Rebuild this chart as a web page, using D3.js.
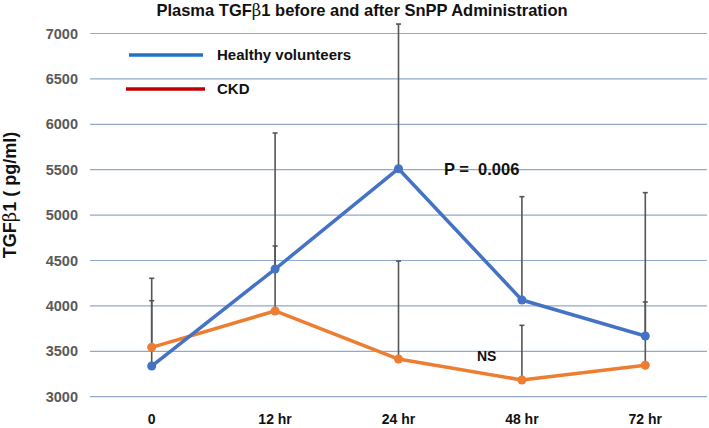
<!DOCTYPE html>
<html><head><meta charset="utf-8">
<script src="https://cdn.jsdelivr.net/npm/d3@7"></script>
<style>body{margin:0;background:#fff;} svg{display:block;font-family:"Liberation Sans",Arial,sans-serif;}</style>
</head><body><svg id="c" width="709" height="428"></svg>
<script>
const categories = ["0", "12 hr", "24 hr", "48 hr", "72 hr"];
const healthy = [3338, 4406, 5511, 4065, 3668];
const healthyUpper = [4304, 5904, 7104, 5203, 5247];
const ckd = [3544, 3944, 3415, 3184, 3346];
const ckdUpper = [4057, 4660, 4494, 3786, 4043];
const yTicks = [3000, 3500, 4000, 4500, 5000, 5500, 6000, 6500, 7000];

const svg = d3.select("#c");
const x = d3.scalePoint().domain(categories).range([90, 707]).padding(0.5);
const y = d3.scaleLinear().domain([3000, 7000]).range([396.7, 33.5]);

// gridlines
svg.append("g").selectAll("line").data(yTicks).join("line")
  .attr("x1", 90).attr("x2", 707)
  .attr("y1", d => y(d)).attr("y2", d => y(d))
  .attr("stroke", "#8FAACC").attr("stroke-width", 1.2);

// y labels
svg.append("g").selectAll("text").data(yTicks).join("text")
  .attr("x", 78).attr("y", d => y(d)).attr("dy", "0.35em")
  .attr("text-anchor", "end").attr("font-size", 14.5).attr("font-weight", "bold")
  .attr("fill", "#595959").text(d => d);

// x labels
svg.append("g").selectAll("text").data(categories).join("text")
  .attr("x", d => x(d)).attr("y", 424).attr("text-anchor", "middle")
  .attr("font-size", 14).attr("font-weight", "bold").attr("fill", "#111").text(d => d);

// error bars
function errBars(vals, ups) {
  const g = svg.append("g").attr("stroke", "#555").attr("stroke-width", 1.6);
  categories.forEach((c, i) => {
    g.append("line").attr("x1", x(c)).attr("x2", x(c)).attr("y1", y(vals[i])).attr("y2", y(ups[i]));
    g.append("line").attr("x1", x(c) - 2.5).attr("x2", x(c) + 2.5).attr("y1", y(ups[i])).attr("y2", y(ups[i]));
  });
}
errBars(healthy, healthyUpper);
errBars(ckd, ckdUpper);

function series(vals, color) {
  const line = d3.line().x((d, i) => x(categories[i])).y(d => y(d));
  svg.append("path").datum(vals).attr("d", line).attr("fill", "none")
    .attr("stroke", color).attr("stroke-width", 3.5).attr("stroke-linejoin", "round");
  svg.append("g").selectAll("circle").data(vals).join("circle")
    .attr("cx", (d, i) => x(categories[i])).attr("cy", d => y(d)).attr("r", 4.5).attr("fill", color);
}
series(ckd, "#ED7D31");
series(healthy, "#4472C4");

// title
const t = svg.append("text").attr("x", 362).attr("y", 16).attr("text-anchor", "middle")
  .attr("font-size", 16.5).attr("font-weight", "bold").attr("fill", "#111");
t.append("tspan").text("Plasma TGF");
t.append("tspan").attr("font-family", "DejaVu Serif, serif").attr("font-weight", "normal").text("β");
t.append("tspan").text("1 before and after SnPP Administration");

// y axis title
const yt = svg.append("text").attr("transform", "translate(16,195) rotate(-90)")
  .attr("text-anchor", "middle").attr("font-size", 18).attr("font-weight", "bold").attr("fill", "#111");
yt.append("tspan").text("TGF");
yt.append("tspan").attr("font-family", "DejaVu Serif, serif").attr("font-weight", "normal").text("β");
yt.append("tspan").text("1 ( pg/ml)");

// legend
svg.append("line").attr("x1", 129).attr("x2", 203).attr("y1", 55).attr("y2", 55)
  .attr("stroke", "#1F72C4").attr("stroke-width", 3.5);
svg.append("text").attr("x", 217).attr("y", 55).attr("dy", "0.35em").attr("font-size", 15)
  .attr("font-weight", "bold").attr("fill", "#111").text("Healthy volunteers");
svg.append("line").attr("x1", 126).attr("x2", 205).attr("y1", 89).attr("y2", 89)
  .attr("stroke", "#C00000").attr("stroke-width", 3.5);
svg.append("text").attr("x", 217).attr("y", 89).attr("dy", "0.35em").attr("font-size", 15)
  .attr("font-weight", "bold").attr("fill", "#111").text("CKD");

// annotations
svg.append("text").attr("x", 444).attr("y", 169).attr("dy", "0.35em").attr("font-size", 16.5)
  .attr("font-weight", "bold").attr("fill", "#111").attr("xml:space", "preserve").text("P =  0.006");
svg.append("text").attr("x", 477).attr("y", 356).attr("dy", "0.35em").attr("font-size", 14)
  .attr("font-weight", "bold").attr("fill", "#111").text("NS");
</script></body></html>
